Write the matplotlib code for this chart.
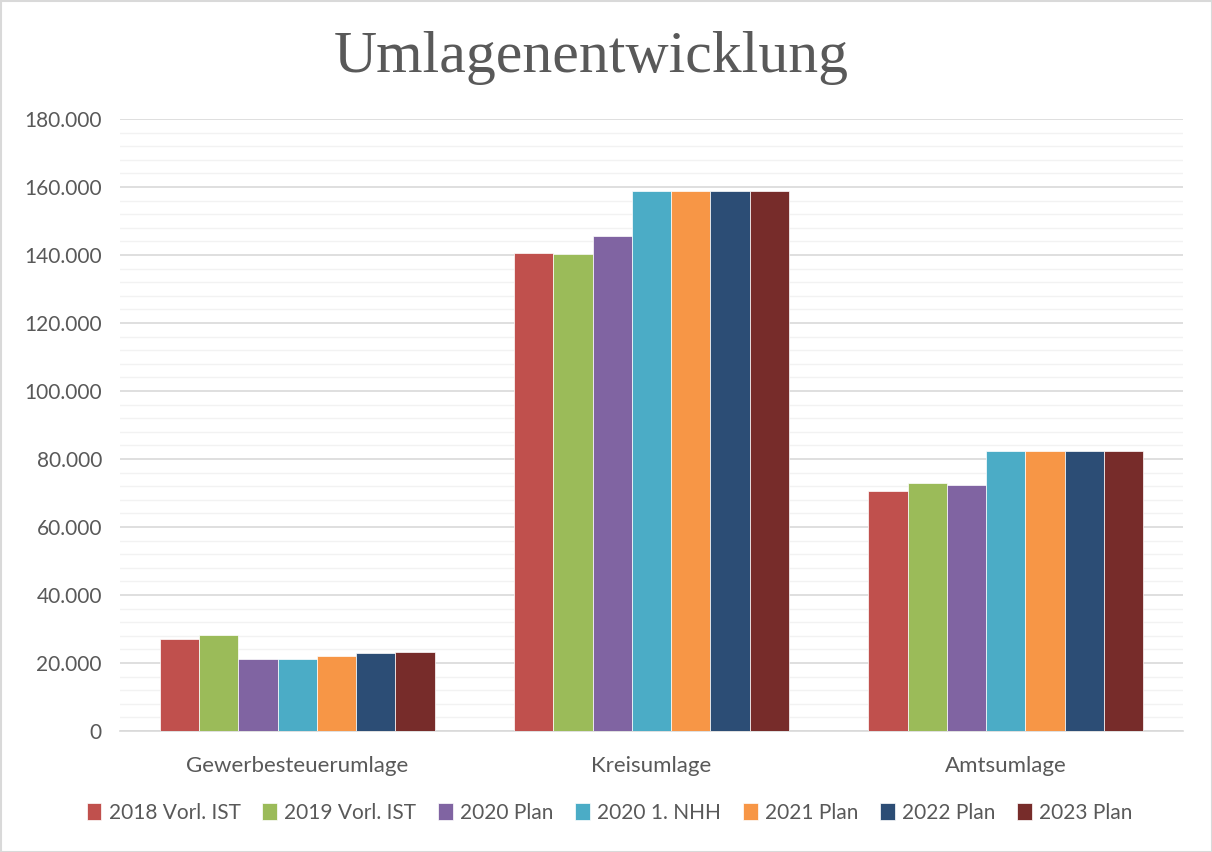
import matplotlib
matplotlib.use("Agg")
import matplotlib.pyplot as plt
import numpy as np
from matplotlib.ticker import FuncFormatter, MultipleLocator
from matplotlib.patches import Rectangle

categories = ["Gewerbesteuerumlage", "Kreisumlage", "Amtsumlage"]
series_names = ["2018 Vorl. IST", "2019 Vorl. IST", "2020 Plan", "2020 1. NHH",
                "2021 Plan", "2022 Plan", "2023 Plan"]
s2018 = [27000, 140600, 70600]
s2019 = [28200, 140400, 72900]
s2020 = [21100, 145600, 72500]
s2020n = [21100, 158800, 82400]
s2021 = [22100, 158800, 82400]
s2022 = [22900, 158800, 82400]
s2023 = [23300, 158800, 82400]
values = [s2018, s2019, s2020, s2020n, s2021, s2022, s2023]
colors = ["#C0504D", "#9BBB59", "#8064A2", "#4BACC6", "#F79646", "#2C4D75", "#772C2A"]

fig = plt.figure(figsize=(12.12, 8.52), dpi=100)
ax = fig.add_axes([120/1212, 1-731/852, (1183-120)/1212, (731-119)/852])

n = len(values)
w = 0.111
x = np.arange(len(categories))
for i, (vals, c, name) in enumerate(zip(values, colors, series_names)):
    ax.bar(x + (i - (n-1)/2) * w, vals, w, color=c, label=name, zorder=3,
           edgecolor="white", linewidth=0.5)

ax.set_xlim(-0.5, len(categories) - 0.5)
ax.set_ylim(0, 180000)
ax.yaxis.set_major_locator(MultipleLocator(20000))
ax.yaxis.set_minor_locator(MultipleLocator(4000))
ax.yaxis.set_major_formatter(FuncFormatter(lambda v, p: "0" if v == 0 else f"{int(v):,}".replace(",", ".")))
ax.grid(axis="y", which="major", color="#D9D9D9", linewidth=1.2, zorder=0)
ax.grid(axis="y", which="minor", color="#F2F2F2", linewidth=1.0, zorder=0)
for s in ["top", "right", "left"]:
    ax.spines[s].set_visible(False)
ax.spines["bottom"].set_color("#D9D9D9")
ax.spines["bottom"].set_linewidth(1.2)
ax.tick_params(axis="both", which="both", length=0)
ax.tick_params(axis="y", pad=13, labelsize=15, labelcolor="#595959")
ax.tick_params(axis="x", pad=18, labelsize=16, labelcolor="#595959")
ax.set_xticks(x)
ax.set_xticklabels(categories)
for lab in ax.get_xticklabels() + ax.get_yticklabels():
    lab.set_family("Lato")

fig.text(0.488, 1-58/852, "Umlagenentwicklung", ha="center", va="center",
         fontsize=43, color="#595959", family="Liberation Serif")

leg = fig.legend(loc="center", bbox_to_anchor=(0.503, 1-813/852), ncol=7, frameon=False,
                 handlelength=0.7, handleheight=0.9, handletextpad=0.35,
                 columnspacing=1.05, prop={"family": "Lato", "size": 15})
for t in leg.get_texts():
    t.set_color("#595959")

fig.patches.append(Rectangle((0.5/1212, 0.5/852), 1-1/1212, 1-1/852, transform=fig.transFigure,
                             fill=False, edgecolor="#D9D9D9", linewidth=1.5))

fig.savefig("out.png", dpi=100)
